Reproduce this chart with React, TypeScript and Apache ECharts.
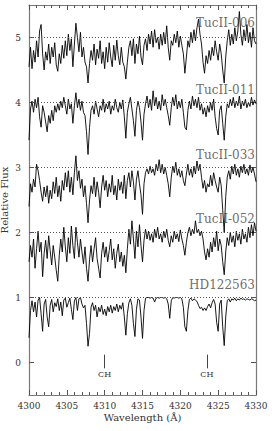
import React, { useEffect, useRef } from "react";
import * as echarts from "echarts";

const wavelengthStart = 4300;
const wavelengthEnd = 4330;
const starNames = ["TucII-006", "TucII-011", "TucII-033", "TucII-052", "HD122563"];
const offsets = [4, 3, 2, 1, 0];
const nameLabelY = [5.22, 4.2, 3.2, 2.21, 1.2];
const referenceLevels = [1, 2, 3, 4, 5];
const yTickValues = [0, 1, 2, 3, 4, 5];
const chMarkers = [4310, 4323.5];
const chMarkerTop = 0.12;
const chMarkerBottom = -0.09;

const fluxTuc006 = [
  0.55, 0.85, 0.52, 0.8, 0.62, 0.95, 0.7, 1.1, 1.2, 0.75,
  0.5, 0.78, 0.65, 0.9, 0.6, 0.85, 0.7, 0.92, 0.58, 0.48,
  0.75, 0.6, 0.88, 0.68, 0.95, 0.72, 1.05, 0.8, 0.98, 0.55,
  0.9, 1.22, 1.0, 0.78, 1.08, 0.7, 0.85, 0.62, 0.55, 0.3,
  0.6, 0.8, 0.65, 0.9, 0.58, 0.82, 0.68, 0.95, 0.6, 0.78,
  0.52, 0.85, 0.62, 0.92, 0.7, 0.55, 0.88, 0.65, 0.96, 0.72,
  0.58, 0.85, 0.62, 0.55, 0.36, 0.62, 0.85, 0.95, 0.72, 0.98,
  0.6, 0.9, 0.75, 1.02, 0.7, 0.58, 0.88, 0.98, 0.8, 1.05,
  0.9, 1.1, 0.85, 1.12, 0.92, 1.0, 0.82, 1.05, 0.88, 1.08,
  0.9, 1.18, 0.85, 0.65, 0.95, 0.88, 1.05, 0.92, 1.1, 0.85,
  1.02, 0.88, 0.75, 0.45, 0.7, 0.95, 0.85, 1.08, 0.92, 1.12,
  0.95, 1.15, 1.28, 1.05, 0.9, 0.62, 0.45, 0.72, 0.6, 0.8,
  0.65, 0.85, 0.72, 0.95, 0.78, 0.65, 0.9, 0.75, 0.5, 0.3,
  0.7, 0.95, 1.12, 0.88, 1.05, 0.9, 1.15, 0.95, 1.1, 1.4,
  1.05, 0.88, 1.12, 0.95, 1.2, 0.92, 1.08, 0.85, 1.15, 0.95,
  0.9,
];

const fluxTuc011 = [
  0.42, 0.9, 1.02, 0.85, 1.05, 0.92, 1.08, 0.78, 0.62, 0.95,
  0.85, 0.7, 0.55, 0.8, 0.68, 0.88, 0.72, 0.95, 0.85, 0.98,
  0.88, 1.02, 0.92, 1.08, 0.95, 0.82, 1.05, 0.9, 0.98, 0.68,
  0.95, 1.15, 0.92, 1.05, 0.88, 1.02, 0.85, 0.8, 0.55, 0.2,
  0.62, 0.88, 0.95, 0.82, 1.02, 0.9, 0.78, 0.95, 0.88, 1.05,
  0.85, 0.98, 0.9, 1.02, 0.82, 0.95, 0.88, 1.05, 0.92, 0.85,
  1.0, 0.9, 1.04, 0.78, 0.45, 0.85, 0.98, 1.08, 0.9, 0.72,
  0.48, 0.88, 1.02, 0.92, 0.7, 0.42, 0.82, 0.98, 1.1, 0.92,
  1.05, 0.88, 1.18, 0.95, 1.08, 0.9, 1.02, 0.88, 1.12, 0.95,
  1.05, 0.92, 0.8, 0.65, 0.92, 1.08, 0.95, 1.12, 0.9, 1.02,
  0.92, 1.05, 0.85, 0.62, 0.58, 0.88, 1.02, 0.9, 1.1, 0.95,
  1.05, 0.92, 1.08, 0.88, 0.98, 0.82, 0.92, 0.78, 0.95, 0.85,
  1.0, 0.88, 1.05, 0.78, 0.6, 0.5, 0.88, 0.95, 0.68, 0.42,
  0.78, 0.98, 0.92, 1.05, 0.95, 1.08, 0.92, 1.02, 0.95, 1.1,
  0.9, 1.02, 0.95, 1.05, 0.92, 1.0, 0.94, 1.08, 0.96, 1.04,
  0.98,
];

const fluxTuc033 = [
  0.4, 0.75, 0.62, 0.82, 0.7, 1.05, 0.95, 0.8, 0.62, 0.48,
  0.7, 0.55, 0.72, 0.45, 0.65, 0.52, 0.78, 0.6, 0.85, 0.55,
  0.72, 0.48, 0.8, 0.65, 0.92, 0.7, 0.95, 0.62, 0.85, 0.58,
  0.92, 1.18, 0.8, 0.95, 0.68, 0.82, 0.55, 0.72, 0.45, 0.15,
  0.5, 0.72, 0.6, 0.85, 0.55, 0.78, 0.62, 0.38, 0.7, 0.88,
  0.65, 0.8, 0.55, 0.75, 0.62, 0.88, 0.58, 0.72, 0.5, 0.82,
  0.65, 0.78, 0.6, 0.88, 0.52, 0.8, 0.92, 0.7, 0.95, 0.78,
  0.5, 0.82, 0.95, 0.75, 0.58, 0.28, 0.75, 0.92, 0.98, 0.9,
  1.02, 0.92, 0.98, 0.88, 1.05, 0.95, 1.12, 0.92, 1.05, 0.9,
  1.0, 0.88, 0.75, 0.55, 0.85, 1.02, 0.92, 1.08, 0.88, 0.98,
  0.85, 0.95, 0.8, 0.72, 0.9, 1.05, 0.88, 0.98, 0.85, 1.02,
  0.9, 1.1, 0.95, 1.05, 0.85, 0.68, 0.8, 0.62, 0.75, 0.7,
  0.88, 0.72, 0.92, 0.8, 0.7, 0.62, 0.85, 0.72, 0.35, 0.0,
  0.55, 0.85, 0.95, 0.82, 1.02, 0.9, 1.05, 0.88, 0.98, 0.85,
  1.02, 0.92, 1.05, 0.9, 0.98, 0.88, 1.04, 0.92, 1.0, 0.9,
  0.78,
];

const fluxTuc052 = [
  0.55, 0.8, 0.62, 0.9, 0.45, 0.75, 1.02, 0.7, 0.85, 0.32,
  0.68, 0.88, 0.6, 0.95, 0.72, 0.5, 0.8, 0.62, 0.42, 0.25,
  0.65, 0.9, 0.7, 1.08, 0.78, 0.55, 0.92, 0.68, 1.1, 0.8,
  0.6, 1.08, 0.85, 0.62, 0.9, 0.7, 0.52, 0.78, 0.45, 0.25,
  0.58, 0.8, 0.55, 0.75, 0.92, 0.6, 0.45, 0.3, 0.68, 0.85,
  0.62, 0.78, 0.55, 0.72, 0.9, 0.58, 0.75, 0.45, 0.68, 0.82,
  0.55, 0.7, 0.48, 0.65, 0.38, 0.75, 1.05, 0.82, 1.18, 0.9,
  0.6, 1.02, 0.78, 1.12, 0.8, 0.55, 0.88, 1.05, 0.9, 1.02,
  0.88, 0.98, 0.85, 1.05, 0.92, 1.08, 0.9, 0.98, 0.85, 1.02,
  0.92, 1.05, 0.88, 0.78, 0.95, 0.85, 1.02, 0.9, 0.98, 0.86,
  1.04, 0.9, 0.8, 0.65, 0.85, 1.0, 1.08, 0.95, 1.05, 0.98,
  1.18, 1.0, 1.05, 0.95, 1.02, 0.9, 0.7, 0.58, 0.75, 0.62,
  0.85, 0.7, 0.92, 0.78, 1.02, 0.72, 0.9, 0.8, 0.55, 0.35,
  0.7, 0.92, 0.8, 1.0, 0.85, 0.95, 0.78, 1.02, 0.88, 0.98,
  0.82, 1.05, 0.9, 0.98, 0.85, 1.08, 0.92, 1.12, 0.95, 1.15,
  1.02,
];

const fluxHD122563 = [
  0.38, 0.8, 0.95, 0.78, 0.93, 0.7, 0.96, 1.0, 0.75, 0.48,
  0.9, 0.97, 0.7, 0.55, 0.88, 0.97, 0.78, 0.92, 0.86, 0.98,
  0.8, 0.93, 0.72, 0.96, 0.99, 0.85, 0.92, 0.99, 0.82, 0.66,
  0.95, 1.0, 0.8, 0.98, 1.0, 0.9, 0.84, 0.88, 0.6, 0.25,
  0.45, 0.85, 0.92, 0.8, 0.88, 0.7, 0.85, 0.78, 0.88, 0.74,
  0.82, 0.72, 0.86, 0.78, 0.88, 0.76, 0.86, 0.8, 0.9, 0.78,
  0.88, 0.82, 0.92, 0.7, 0.42, 0.75, 0.92, 0.98, 0.88, 0.6,
  0.4, 0.82, 0.98, 0.96, 0.7, 0.37, 0.8, 0.99, 1.0, 1.0,
  0.99, 1.0, 0.99, 0.93, 0.99, 1.0, 0.99, 1.0, 1.0, 0.99,
  1.0, 0.98, 0.9, 0.68, 0.95, 1.0, 0.99, 1.0, 1.0, 0.99,
  1.0, 0.98, 0.85, 0.55, 0.48, 0.8, 0.97, 0.99, 0.95, 0.98,
  0.96, 0.94, 0.88, 0.83, 0.85, 0.8, 0.84, 0.8, 0.86, 0.9,
  0.84, 0.92, 0.97, 0.9, 0.62, 0.48, 0.9, 0.96, 0.55, 0.26,
  0.7, 0.95, 0.98, 0.93, 0.98, 0.96, 0.99, 0.95, 0.98, 0.96,
  0.99, 0.97, 0.98, 0.96, 0.98, 0.97, 0.96, 0.98, 0.97, 0.95,
  0.96,
];

const fluxes = [fluxTuc006, fluxTuc011, fluxTuc033, fluxTuc052, fluxHD122563];

const FONT = "DejaVu Serif";

export default function App() {
  const ref = useRef<HTMLDivElement>(null);
  useEffect(() => {
    if (!ref.current) return;
    const chart = echarts.init(ref.current, null, { renderer: "svg" });
    const spectra = fluxes.map((flux, k) => {
      const n = flux.length;
      const step = (wavelengthEnd - wavelengthStart) / (n - 1);
      return {
        type: "line",
        name: starNames[k],
        showSymbol: false,
        silent: true,
        z: 3,
        data: flux.map((v, i) => [wavelengthStart + i * step, v + offsets[k]]),
        lineStyle: { color: "#000", width: 0.9 },
      };
    });
    const axisLine = { show: true, onZero: false, lineStyle: { color: "#7a7a7a", width: 1.2 } };
    const tickStyle = { color: "#555" };
    chart.setOption({
      animation: false,
      backgroundColor: "#fff",
      grid: { left: 29, right: 16, top: 5, bottom: 36, outerBoundsMode: "none", containLabel: false },
      xAxis: [
        {
          type: "value",
          position: "bottom",
          min: wavelengthStart,
          max: wavelengthEnd,
          interval: 5,
          axisLine,
          splitLine: { show: false },
          axisTick: { show: true, inside: true, length: 5, lineStyle: tickStyle },
          minorTick: { show: true, splitNumber: 5, length: 3, lineStyle: tickStyle },
          axisLabel: { fontFamily: FONT, fontSize: 9, color: "#333", margin: 6, formatter: (v: number) => String(v) },
          name: "Wavelength (Å)",
          nameLocation: "middle",
          nameGap: 17,
          nameMoveOverlap: false,
          nameTextStyle: { fontFamily: FONT, fontSize: 10, color: "#333" },
        },
        {
          type: "value",
          position: "top",
          min: wavelengthStart,
          max: wavelengthEnd,
          interval: 5,
          axisLine,
          splitLine: { show: false },
          axisTick: { show: true, inside: true, length: 5, lineStyle: tickStyle },
          minorTick: { show: true, splitNumber: 5, length: 3, lineStyle: tickStyle },
          axisLabel: { show: false },
        },
      ],
      yAxis: [
        {
          type: "value",
          position: "left",
          min: -0.5,
          max: 5.5,
          axisLine,
          splitLine: { show: false },
          axisTick: { show: true, inside: true, length: 5, customValues: yTickValues, lineStyle: tickStyle },
          axisLabel: { fontFamily: FONT, fontSize: 9, color: "#333", margin: 8, customValues: yTickValues },
          name: "Relative Flux",
          nameLocation: "middle",
          nameGap: 20,
          nameRotate: 90,
          nameMoveOverlap: false,
          nameTextStyle: { fontFamily: FONT, fontSize: 10, color: "#333" },
        },
        {
          type: "value",
          position: "right",
          min: -0.5,
          max: 5.5,
          axisLine,
          splitLine: { show: false },
          axisTick: { show: true, inside: true, length: 5, customValues: yTickValues, lineStyle: tickStyle },
          axisLabel: { show: false },
        },
      ],
      series: [
        {
          type: "line",
          data: [],
          silent: true,
          z: 1,
          markLine: {
            silent: true,
            symbol: "none",
            label: { show: false },
            lineStyle: { type: [1, 2], color: "#555", width: 1 },
            data: referenceLevels.map((v) => ({ yAxis: v })),
          },
        },
        ...spectra,
        {
          type: "scatter",
          symbolSize: 0,
          silent: true,
          z: 5,
          data: starNames.map((nm, k) => ({ value: [wavelengthEnd, nameLabelY[k]], name: nm })),
          label: {
            show: true,
            position: "left",
            distance: 1,
            formatter: (p: any) => p.name,
            fontFamily: FONT,
            fontSize: 12,
            color: "#444",
          },
        },
        {
          type: "line",
          data: [],
          silent: true,
          markLine: {
            silent: true,
            symbol: "none",
            lineStyle: { type: "solid", color: "#444", width: 1 },
            label: { show: true, position: "end", formatter: "CH", distance: 2, fontFamily: FONT, fontSize: 8, color: "#333" },
            data: chMarkers.map((x) => [{ coord: [x, chMarkerTop] }, { coord: [x, chMarkerBottom] }]),
          },
        },
      ],
    });
    return () => chart.dispose();
  }, []);
  return <div ref={ref} style={{ position: "fixed", left: 0, top: 0, width: 272, height: 431 }} />;
}
